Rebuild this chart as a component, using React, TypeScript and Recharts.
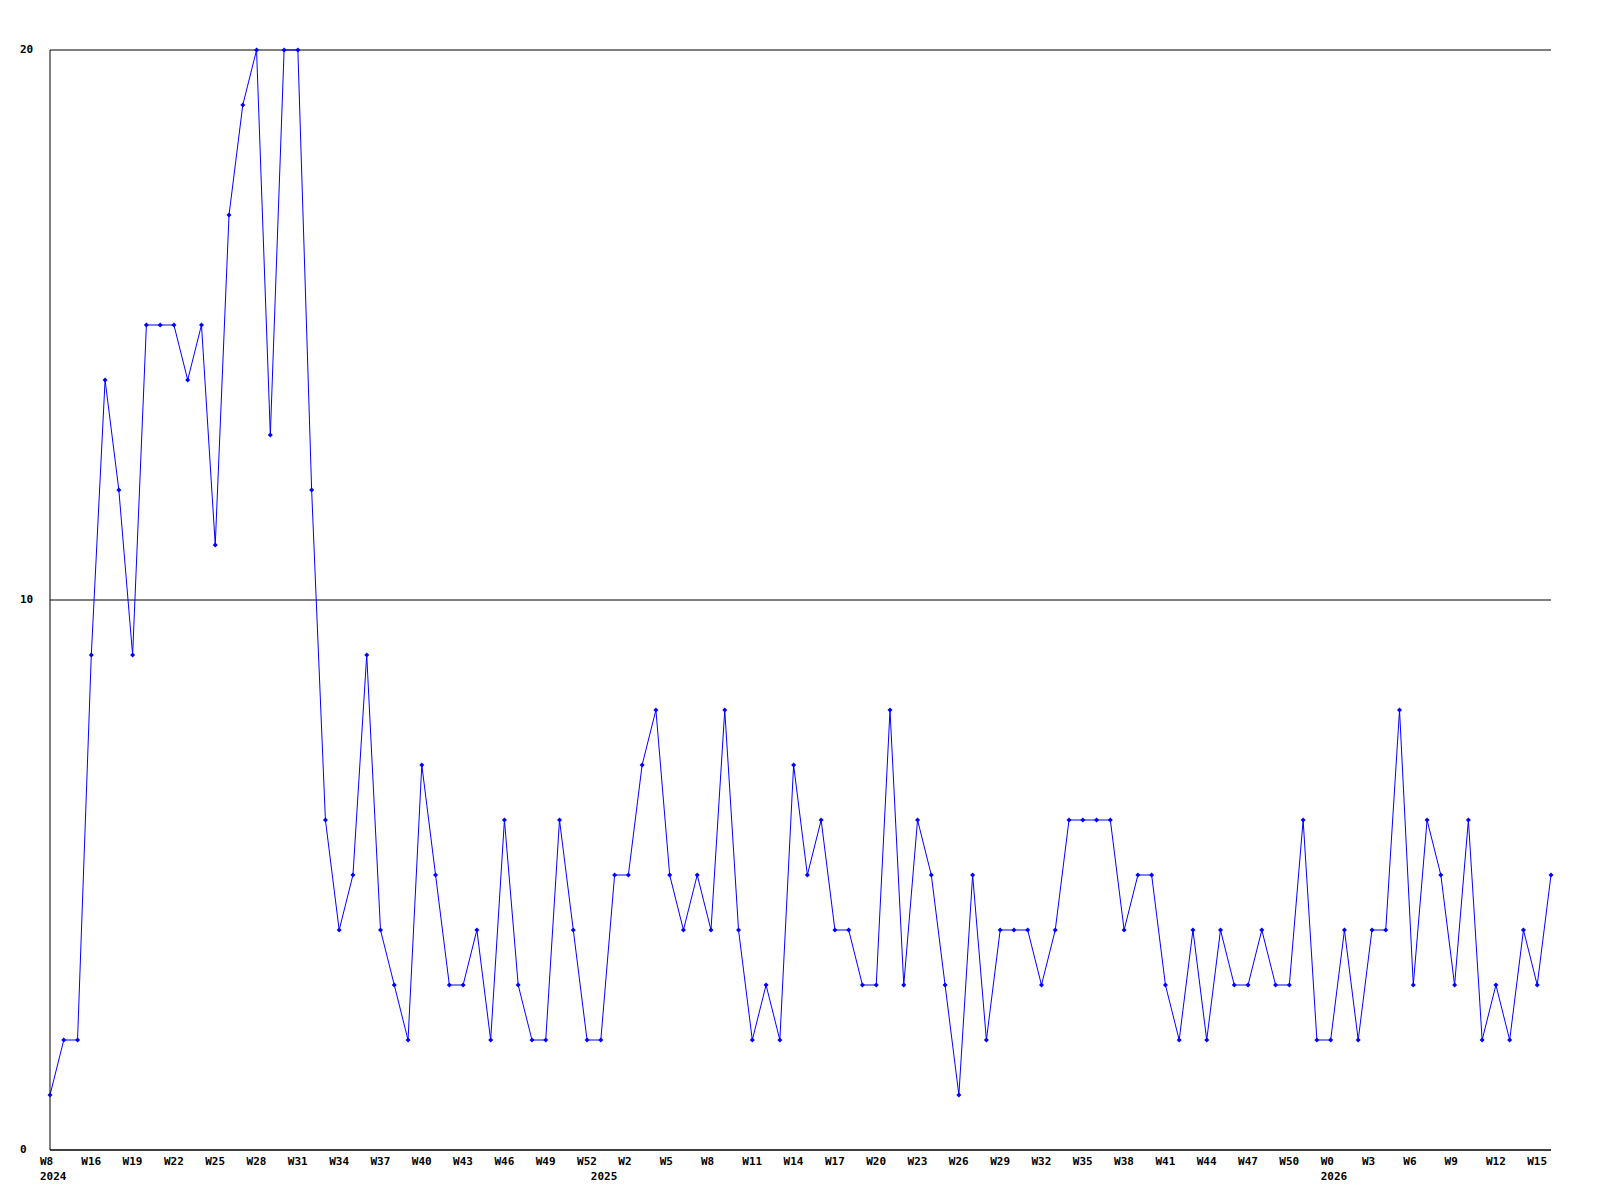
import { LineChart, Line, XAxis, YAxis, CartesianGrid } from "recharts"

// weekly counts, one point per week
const counts = [
  1, 2, 2, 9, 14, 12, 9, 15, 15, 15,
  14, 15, 11, 17, 19, 20, 13, 20, 20, 12,
  6, 4, 5, 9, 4, 3, 2, 7, 5, 3,
  3, 4, 2, 6, 3, 2, 2, 6, 4, 2,
  2, 5, 5, 7, 8, 5, 4, 5, 4, 8,
  4, 2, 3, 2, 7, 5, 6, 4, 4, 3,
  3, 8, 3, 6, 5, 3, 1, 5, 2, 4,
  4, 4, 3, 4, 6, 6, 6, 6, 4, 5,
  5, 3, 2, 4, 2, 4, 3, 3, 4, 3,
  3, 6, 2, 2, 4, 2, 4, 4, 8, 3,
  6, 5, 3, 6, 2, 3, 2, 4, 3, 5,
]

// week labels, every third point
const weekTickIndex = [
  0, 3, 6, 9, 12, 15, 18, 21, 24, 27, 30, 33, 36, 39, 42, 45, 48, 51, 54,
  57, 60, 63, 66, 69, 72, 75, 78, 81, 84, 87, 90, 93, 96, 99, 102, 105, 108,
]
const weekTickLabels = [
  "W8", "W16", "W19", "W22", "W25", "W28", "W31", "W34", "W37", "W40", "W43",
  "W46", "W49", "W52", "W2", "W5", "W8", "W11", "W14", "W17", "W20", "W23",
  "W26", "W29", "W32", "W35", "W38", "W41", "W44", "W47", "W50", "W0", "W3",
  "W6", "W9", "W12", "W15",
]

// year labels on the second line
const yearTickIndex = [0, 40, 93]
const yearTickLabels = ["2024", "2025", "2026"]

const yTicks = [0, 10, 20]

const data = counts.map((value, i) => ({ i, value }))
const allTicks = Array.from(new Set([...weekTickIndex, ...yearTickIndex])).sort((a, b) => a - b)

const BLUE = "#0000ff"
const FONT = "'DejaVu Sans Mono', monospace"

function XTick(props: any) {
  const { x, y, payload } = props
  const wi = weekTickIndex.indexOf(payload.value)
  const yi = yearTickIndex.indexOf(payload.value)
  return (
    <g>
      {wi >= 0 && (
        <text x={x - 10} y={y + 12} textAnchor="start" dominantBaseline="middle" fontFamily={FONT} fontWeight="bold" fontSize={11} fill="#000">
          {weekTickLabels[wi]}
        </text>
      )}
      {yi >= 0 && (
        <text x={x - 10} y={y + 27} textAnchor="start" dominantBaseline="middle" fontFamily={FONT} fontWeight="bold" fontSize={11} fill="#000">
          {yearTickLabels[yi]}
        </text>
      )}
    </g>
  )
}

function YTick(props: any) {
  const { y, payload } = props
  return (
    <text x={20} y={y} textAnchor="start" dominantBaseline="middle" fontFamily={FONT} fontWeight="bold" fontSize={11} fill="#000">
      {payload.value}
    </text>
  )
}

function Marker(props: any) {
  const { cx, cy } = props
  if (cx == null || cy == null) return null
  return <path d={`M${cx - 2.5},${cy} L${cx},${cy - 2.5} L${cx + 2.5},${cy} L${cx},${cy + 2.5} Z`} fill={BLUE} stroke="none" />
}

export default function App() {
  return (
    <div style={{ position: "absolute", left: 0, top: 0, width: 1600, height: 1200, background: "#fff" }}>
      <LineChart width={1600} height={1200} data={data} margin={{ top: 50, right: 49, bottom: 0, left: 0 }}>
        <CartesianGrid horizontal vertical={false} stroke="#000" strokeDasharray="" />
        <XAxis
          dataKey="i"
          type="number"
          domain={[0, counts.length - 1]}
          ticks={allTicks}
          interval={0}
          height={50}
          tickLine={false}
          tickSize={0}
          tickMargin={0}
          axisLine={{ stroke: "#000" }}
          tick={<XTick />}
        />
        <YAxis
          domain={[0, 20]}
          ticks={yTicks}
          width={50}
          tickLine={false}
          tickSize={0}
          axisLine={{ stroke: "#000" }}
          tick={<YTick />}
        />
        <Line
          type="linear"
          dataKey="value"
          stroke={BLUE}
          strokeWidth={1}
          dot={<Marker />}
          activeDot={false}
          isAnimationActive={false}
        />
      </LineChart>
    </div>
  )
}
